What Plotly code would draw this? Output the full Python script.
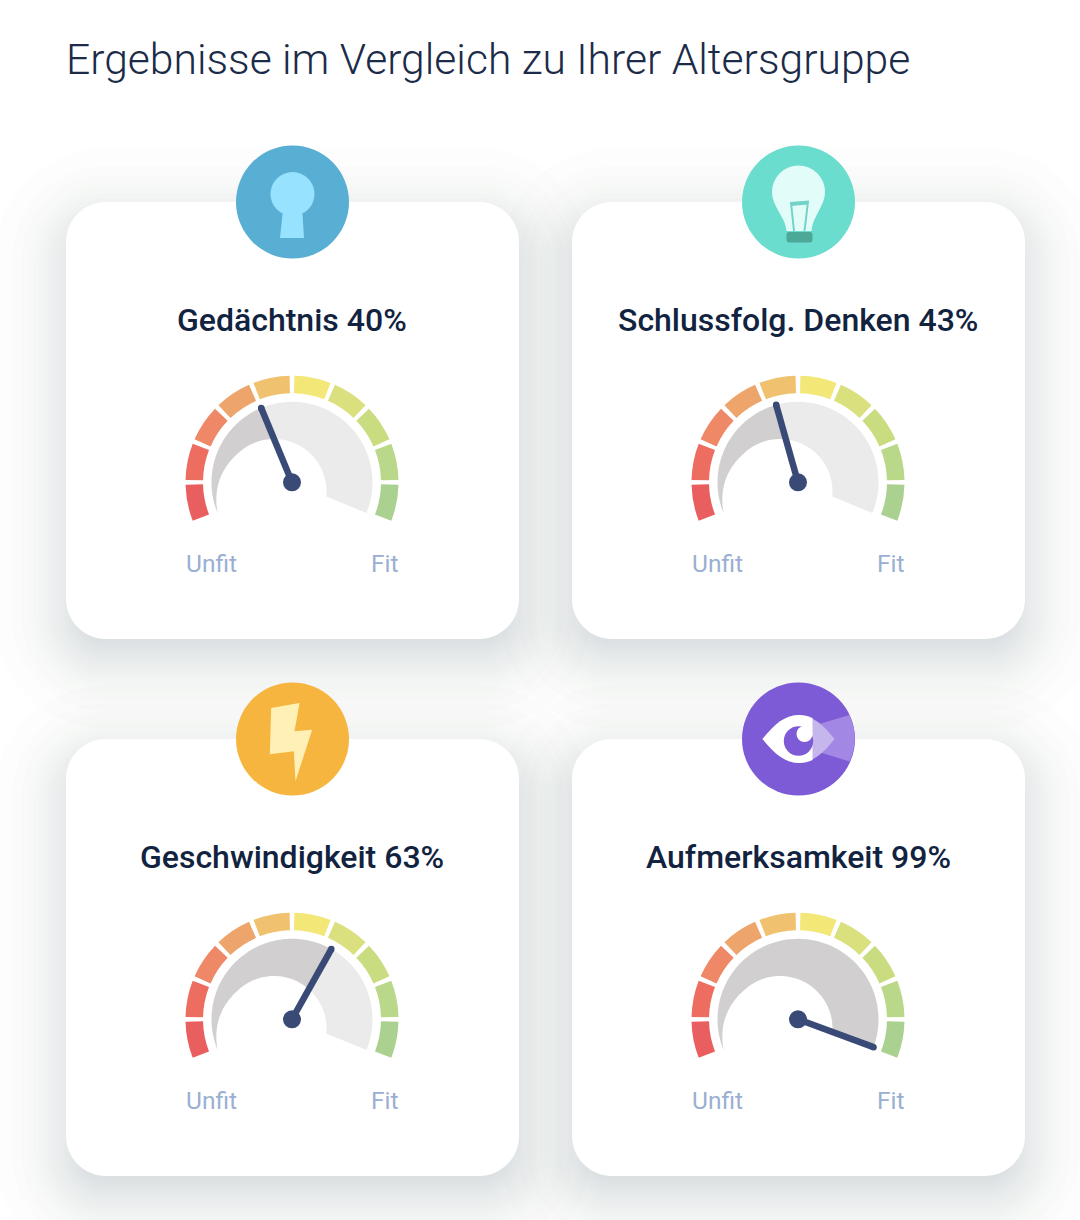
import numpy as np
from math import erf, sqrt
import plotly.graph_objects as go

W, H = 1080, 1220

# ---------- data ----------
title_text = "Ergebnisse im Vergleich zu Ihrer Altersgruppe"
domains = ["Gedächtnis", "Schlussfolg. Denken", "Geschwindigkeit", "Aufmerksamkeit"]
scores = [40, 43, 63, 99]
segment_shares = [10, 10, 10, 10, 10, 10, 10, 10, 10, 10]
segment_colors = ["#E95F5F", "#ED6E61", "#EE8866", "#EEA56B", "#F0C26F",
                  "#F3E777", "#DAE07D", "#CADC80", "#BAD88A", "#AAD18F"]
low_label = "Unfit"
high_label = "Fit"

# ---------- layout constants ----------
card_x = [66, 572, 66, 572]
card_y = [202, 202, 739, 739]
CARD_W, CARD_H, CARD_R = 453, 437, 40
GAUGE_DX, GAUGE_DY = 226, 280.3
ARC_START, ARC_SPAN = 202.5, 225.0
R_DOMAIN = 112
R_OUT, R_IN = 106.5, 89
R_BAND = 80.5
INK = "#3A4A76"


def pt(x, y):
    return f"{x / W:.5f},{1 - y / H:.5f}"


def path(*cmds):
    out = []
    for c in cmds:
        if isinstance(c, str):
            out.append(c)
        else:
            out.append(pt(*c))
    return " ".join(out)


def rrect(x0, y0, x1, y1, r):
    k = r * 0.448
    return path("M", (x0 + r, y0), "L", (x1 - r, y0),
                "C", (x1 - k, y0), (x1, y0 + k), (x1, y0 + r),
                "L", (x1, y1 - r),
                "C", (x1, y1 - k), (x1 - k, y1), (x1 - r, y1),
                "L", (x0 + r, y1),
                "C", (x0 + k, y1), (x0, y1 - k), (x0, y1 - r),
                "L", (x0, y0 + r),
                "C", (x0, y0 + k), (x0 + k, y0), (x0 + r, y0), "Z")


def circle(cx, cy, r, color, layer="below"):
    return dict(type="circle", xref="paper", yref="paper", layer=layer,
                x0=(cx - r) / W, x1=(cx + r) / W,
                y0=1 - (cy + r) / H, y1=1 - (cy - r) / H,
                fillcolor=color, line=dict(width=0))


def pshape(d, color, line=None, lw=0):
    return dict(type="path", xref="paper", yref="paper", layer="below", path=d,
                fillcolor=color, line=dict(width=lw, color=line or color))


def poly(points):
    cmds = ["M", points[0]]
    for p in points[1:]:
        cmds += ["L", p]
    cmds.append("Z")
    return path(*cmds)


shapes = []

# soft shadows: contour layers, each darkening the page by the same small step,
# placed where a gaussian falloff reaches that level
SIGMA, OFF, SPREAD = 36, 18, 4
PEAK_LEVELS, STEP_LEVELS = 56, 2
Phi = lambda z: 0.5 * (1 + erf(z / sqrt(2)))
table_e = np.arange(140, -70, -0.5)
table_lv = np.array([PEAK_LEVELS * Phi(-v / SIGMA) for v in table_e])
for x0, y0 in zip(card_x, card_y):
    for k in range(PEAK_LEVELS // STEP_LEVELS):
        lv = STEP_LEVELS * (k + 0.5)
        e = float(np.interp(lv, table_lv, table_e))
        if e < -30:
            break
        g = e - SPREAD
        green = 255 if k % 7 == 3 else 75
        blue = 255 if k % 5 == 4 else 95
        s = pshape(rrect(x0 - g, y0 + OFF - g, x0 + CARD_W + g, y0 + OFF + CARD_H + g,
                         max(CARD_R + g, 6)), f"rgb(60,{green},{blue})")
        s["opacity"] = 0.012
        shapes.append(s)

# white cards
for x0, y0 in zip(card_x, card_y):
    shapes.append(pshape(rrect(x0, y0, x0 + CARD_W, y0 + CARD_H, CARD_R), "#FFFFFF"))

# icons
ICON_R = 56.5
# keyhole
cx, cy = card_x[0] + CARD_W / 2, card_y[0]
shapes.append(circle(cx, cy, ICON_R, "#58AED3"))
shapes.append(pshape(poly([(cx - 10, cy + 12), (cx + 10, cy + 12), (cx + 11.5, cy + 36), (cx - 12.5, cy + 36)]), "#97E3FF"))
shapes.append(circle(cx, cy - 8, 22, "#97E3FF"))
# bulb
cx, cy = card_x[1] + CARD_W / 2, card_y[1]
shapes.append(circle(cx, cy, ICON_R, "#6BDDCE"))
shapes.append(circle(cx, cy - 10, 26.5, "#E2FDF9"))
shapes.append(pshape(path("M", (cx - 23, cy + 3), "C", (cx - 19, cy + 13), (cx - 13, cy + 18), (cx - 12, cy + 29),
                          "L", (cx + 13, cy + 29), "C", (cx + 14, cy + 18), (cx + 19, cy + 13), (cx + 23, cy + 3), "Z"), "#E2FDF9"))
shapes.append(dict(type="path", xref="paper", yref="paper", layer="below",
                   path=path("M", (cx - 4.5, cy + 29), "L", (cx - 7.5, cy + 1), "L", (cx + 9.5, cy - 0.5),
                             "L", (cx + 6, cy + 29), "M", (cx - 7.5, cy + 3), "L", (cx + 9.5, cy + 1.5)),
                   line=dict(color="#72D3C6", width=2)))
shapes.append(pshape(rrect(cx - 12, cy + 30, cx + 14, cy + 40.5, 2.5), "#4CA897"))
# bolt
cx, cy = card_x[2] + CARD_W / 2, card_y[2]
shapes.append(circle(cx, cy, ICON_R, "#F6B53F"))
ox, oy = cx - 72, cy - 67
bolt = [(152, 108), (237, 93), (222, 178), (275, 173), (225, 328), (220, 238), (148, 247)]
shapes.append(pshape(poly([(ox + a / 3, oy + b / 3) for a, b in bolt]), "#FFF1B5"))
# eye
cx, cy = card_x[3] + CARD_W / 2, card_y[3]
shapes.append(circle(cx, cy, ICON_R, "#7E5BD6"))
shapes.append(pshape(path("M", (cx + 14, cy - 13), "L", (cx + 51, cy - 24),
                          "C", (cx + 58, cy - 10), (cx + 58, cy + 8), (cx + 51, cy + 22.5),
                          "L", (cx + 14, cy + 11), "Z"), "#A387E4"))
shapes.append(pshape(path("M", (cx - 36, cy), "C", (cx - 24, cy - 15), (cx - 13, cy - 24), (cx, cy - 24),
                          "C", (cx + 14, cy - 24), (cx + 25, cy - 14), (cx + 36, cy),
                          "C", (cx + 25, cy + 14), (cx + 14, cy + 24), (cx, cy + 24),
                          "C", (cx - 13, cy + 24), (cx - 24, cy + 15), (cx - 36, cy), "Z"), "#C5B6EC"))
shapes.append(pshape(path("M", (cx - 36, cy), "C", (cx - 24, cy - 15), (cx - 13, cy - 24), (cx, cy - 24),
                          "C", (cx + 5, cy - 24), (cx + 10, cy - 23), (cx + 14, cy - 21),
                          "L", (cx + 14, cy + 21),
                          "C", (cx + 10, cy + 23), (cx + 5, cy + 24), (cx, cy + 24),
                          "C", (cx - 13, cy + 24), (cx - 24, cy + 15), (cx - 36, cy), "Z"), "#FFFFFF"))
shapes.append(circle(cx, cy + 2, 14.7, "#7E5BD6"))
shapes.append(circle(cx + 6, cy - 5, 8, "#FFFFFF"))


# ---------- traces ----------
def inner_radius(theta):
    """Inner edge of the grey band: an off-centre circle, tapering into the outer edge at the left end."""
    t = np.radians(theta)
    c_x, c_y, rad = -18.0, -9.2, 52.5
    ux, uy = np.cos(t), np.sin(t)
    b = ux * c_x + uy * c_y
    r = b + np.sqrt(b ** 2 - (c_x ** 2 + c_y ** 2 - rad ** 2))
    w = np.clip((theta - 150) / (ARC_START - 150), 0, 1) ** 2
    return r + (R_BAND - r) * w


def band(a, b, color, sub):
    th = np.linspace(a, b, 80)
    return go.Scatterpolar(theta=np.r_[th, th[::-1], th[0]],
                           r=np.r_[np.full(80, R_BAND), inner_radius(th[::-1]), R_BAND],
                           mode="lines", line=dict(width=0, color=color), fill="toself",
                           fillcolor=color, subplot=sub, hoverinfo="skip", showlegend=False)


fig = go.Figure()
layout_polars = {}
annotations = [dict(text=title_text, x=64 / W, y=1 - 59 / H, xref="paper", yref="paper",
                    xanchor="left", yanchor="middle", showarrow=False,
                    font=dict(family="Roboto", size=42.6, color="#1B2B48", weight=300))]

shares = np.array(segment_shares, float)
edges = ARC_START - ARC_SPAN * np.r_[0, np.cumsum(shares)] / shares.sum()
for i, (name, score, x0, y0) in enumerate(zip(domains, scores, card_x, card_y)):
    sub = "polar" if i == 0 else f"polar{i + 1}"
    gx, gy = x0 + GAUGE_DX, y0 + GAUGE_DY
    layout_polars[sub] = dict(
        domain=dict(x=[(gx - R_DOMAIN) / W, (gx + R_DOMAIN) / W],
                    y=[1 - (gy + R_DOMAIN) / H, 1 - (gy - R_DOMAIN) / H]),
        bgcolor="rgba(0,0,0,0)",
        radialaxis=dict(visible=False, range=[0, R_DOMAIN]),
        angularaxis=dict(visible=False, direction="counterclockwise", rotation=0),
    )
    fig.add_trace(go.Barpolar(theta=(edges[:-1] + edges[1:]) / 2, width=np.abs(np.diff(edges)) - 2.6,
                              r=np.full(10, R_OUT - R_IN), base=np.full(10, R_IN),
                              marker=dict(color=segment_colors, line=dict(width=0)),
                              subplot=sub, hoverinfo="skip", showlegend=False))
    ang = ARC_START - ARC_SPAN * score / 100
    fig.add_trace(band(ARC_START, ang, "#D1CFD0", sub))
    fig.add_trace(band(ang, ARC_START - ARC_SPAN, "#EBEBEB", sub))
    fig.add_trace(go.Scatterpolar(theta=[ang, ang], r=[0, R_BAND], mode="lines+markers",
                                  line=dict(color=INK, width=6.5),
                                  marker=dict(size=[18, 6.5], color=INK, opacity=1, line=dict(width=0)),
                                  subplot=sub, hoverinfo="skip", showlegend=False))
    annotations.append(dict(text=f"{name} {score}%", x=gx / W, y=1 - (y0 + 118) / H,
                            xref="paper", yref="paper", xanchor="center", yanchor="middle",
                            showarrow=False,
                            font=dict(family="Roboto", size=32, color="#12233F", weight=500)))
    for lab, dx in ((low_label, -80.5), (high_label, 93)):
        annotations.append(dict(text=lab, x=(gx + dx) / W, y=1 - (gy + 81) / H,
                                xref="paper", yref="paper", xanchor="center", yanchor="middle",
                                showarrow=False,
                                font=dict(family="Roboto", size=24.5, color="#9AAFD2", weight=400)))

fig.update_layout(width=W, height=H, margin=dict(l=0, r=0, t=0, b=0),
                  paper_bgcolor="#FFFFFF", plot_bgcolor="#FFFFFF",
                  shapes=shapes, annotations=annotations, showlegend=False,
                  **layout_polars)

fig.write_html("out.html", config=dict(displayModeBar=False),
               post_script="document.body.style.margin='0';")
